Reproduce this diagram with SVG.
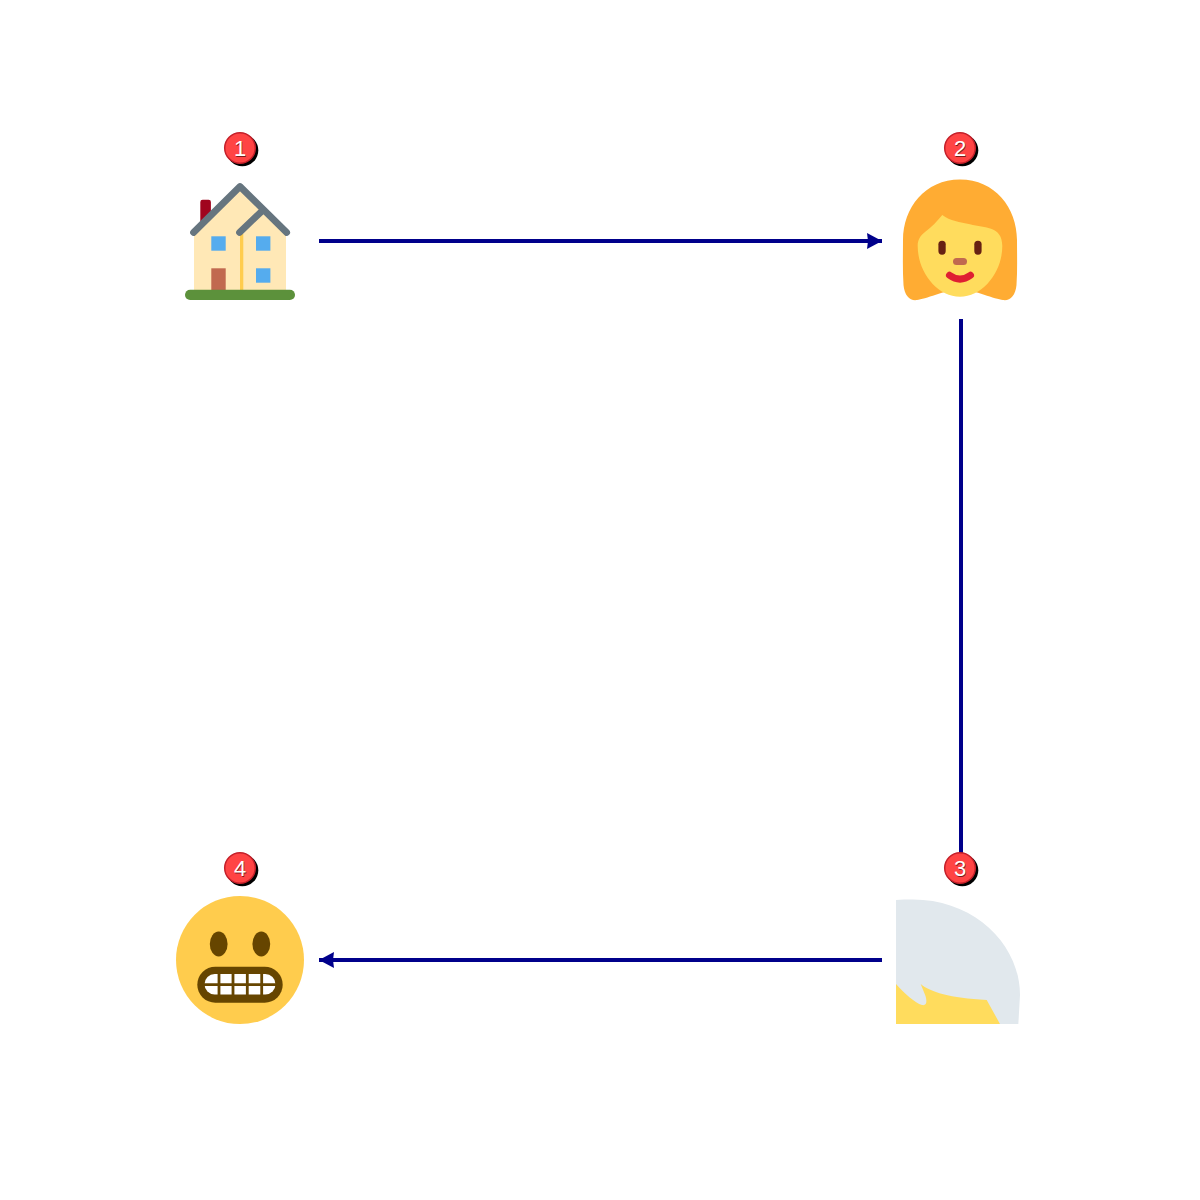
<svg xmlns="http://www.w3.org/2000/svg" width="1200" height="1200" viewBox="0 0 1200 1200">
<style>
.conn{stroke:#00008b;stroke-width:4;fill:none}
.b{fill:#f44;stroke:#c4202a;stroke-width:1.500}
.bs{fill:#000}
.t{font-family:"Liberation Sans",Arial,sans-serif;font-size:22px;fill:#fff;text-anchor:middle}
.ts{font-family:"Liberation Sans",Arial,sans-serif;font-size:22px;fill:#7a1a1a;text-anchor:middle}
.w{fill:#55acee}
</style>
<defs>
<marker id="arr" markerUnits="userSpaceOnUse" markerWidth="15" markerHeight="16" refX="15" refY="8" orient="auto"><path d="M0 0L15 8L0 16L1 8Z" fill="#00008b"/></marker>
<clipPath id="clip3"><rect x="896" y="896" width="128" height="128"/></clipPath>
</defs>
<rect width="1200" height="1200" fill="#fff"/>
<g id="connectors">
<path class="conn" d="M319 241H882" marker-end="url(#arr)"/>
<path class="conn" d="M961 319V870"/>
<path class="conn" d="M882 960H319" marker-end="url(#arr)"/>
</g>
<g id="node1">
<path d="M200.300 202a2.300 2.300 0 0 1 2.300-2.300h6a2.300 2.300 0 0 1 2.300 2.300v22h-10.600z" fill="#a0041e"/>
<path d="M194 233L240 189L286 233V290H194z" fill="#ffe8b6"/>
<rect x="240" y="234" width="3.300" height="56" fill="#ffcc4d"/>
<rect class="w" x="211.300" y="236.300" width="14.400" height="14.400"/>
<rect class="w" x="256" y="236.300" width="14.400" height="14.400"/>
<rect class="w" x="256" y="268.300" width="14.400" height="14.400"/>
<rect x="211.300" y="268.300" width="14.400" height="21.700" fill="#c1694f"/>
<rect x="185" y="289.700" width="110" height="10.300" rx="5.100" fill="#5c913b"/>
<path d="M193.500 232.500L240 186.500L286.700 232.500M239.500 232.500L262 211" fill="none" stroke="#66757f" stroke-width="6.700" stroke-linecap="round" stroke-linejoin="round"/>
<circle class="bs" cx="242.300" cy="150.300" r="16"/>
<circle class="b" cx="240" cy="148" r="15.300"/>
<text class="ts" x="240.600" y="156.600">1</text>
<text class="t" x="240" y="156">1</text>
</g>
<g id="node2">
<path d="M960 179.500C995 179.500 1017 208 1017 240C1017 255 1017.500 270 1016.500 285C1015.500 296 1010 301 1003 300C995 299 975 291 960 288C945 291 925 299 917 300C910 301 904.500 296 903.500 285C902.500 270 903 255 903 240C903 208 925 179.500 960 179.500Z" fill="#ffac33"/>
<path d="M942.300 215C950 221 960 222 970 224.300C985 228 1002.300 226 1002.300 246C1002.300 272 983 296.700 960 296.700C937 296.700 917.700 272 917.700 246C917.700 240 920 236 925 232C932 227 937 221 942.300 215Z" fill="#ffdc5d"/>
<rect x="938.400" y="240.700" width="7.300" height="14" rx="3.600" fill="#662113"/>
<rect x="974.300" y="240.700" width="7.300" height="14" rx="3.600" fill="#662113"/>
<rect x="953" y="258" width="14" height="7" rx="3.500" fill="#c1694f"/>
<path d="M949.500 275.300Q960 283 970.500 275.300" fill="none" stroke="#df1f32" stroke-width="7" stroke-linecap="round"/>
<circle class="bs" cx="962.300" cy="150.300" r="16"/>
<circle class="b" cx="960" cy="148" r="15.300"/>
<text class="ts" x="960.600" y="156.600">2</text>
<text class="t" x="960" y="156">2</text>
</g>
<g id="node3">
<g clip-path="url(#clip3)">
<path d="M896 900C901 899.600 907 899.500 913 899.500C975 899.500 1020 945 1020 995L1018 1030H880V900Z" fill="#e1e8ed"/>
<path d="M896 984C905 994 915 1003 922 1005C927 1006 927 1001 925.500 996L920.700 984C930 992 950 998 986.700 1000L1000 1024H896Z" fill="#ffdc5d"/>
</g>
<circle class="bs" cx="962.300" cy="870.300" r="16"/>
<circle class="b" cx="960" cy="868" r="15.300"/>
<text class="ts" x="960.600" y="876.600">3</text>
<text class="t" x="960" y="876">3</text>
</g>
<g id="node4">
<circle cx="240" cy="960" r="64" fill="#ffcc4d"/>
<ellipse cx="218.700" cy="944" rx="8.900" ry="12.500" fill="#664500"/>
<ellipse cx="261.300" cy="944" rx="8.900" ry="12.500" fill="#664500"/>
<rect x="197.300" y="966.700" width="85.400" height="36" rx="18" fill="#664500"/>
<rect x="204.500" y="974" width="71" height="20.500" rx="10.200" fill="#fff"/>
<path d="M204 984.700H276M219 973V996M233 973V996M247.300 973V996M261.700 973V996" stroke="#664500" stroke-width="2.800" fill="none"/>
<circle class="bs" cx="242.300" cy="870.300" r="16"/>
<circle class="b" cx="240" cy="868" r="15.300"/>
<text class="ts" x="240.600" y="876.600">4</text>
<text class="t" x="240" y="876">4</text>
</g>
</svg>
